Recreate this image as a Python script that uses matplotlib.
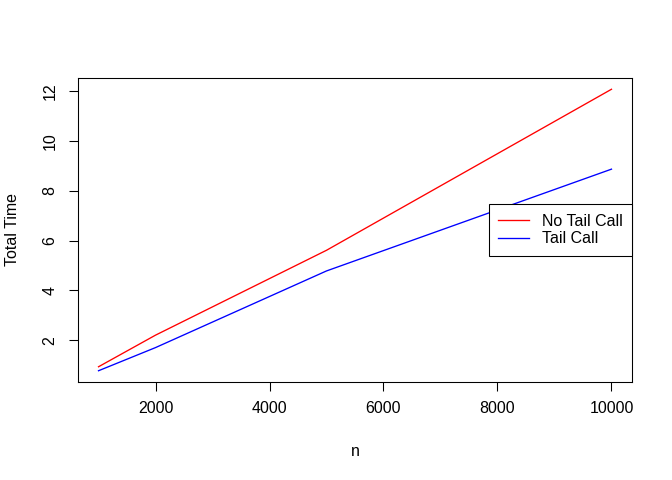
import matplotlib
matplotlib.use("Agg")
from matplotlib import pyplot as plt
import numpy as np

plt.rcParams['font.family'] = ['Liberation Sans', 'DejaVu Sans']

n = [1000, 2000, 5000, 10000]
no_tail = [0.93, 2.2, 5.61, 12.08]
tail = [0.77, 1.7, 4.78, 8.87]

fig = plt.figure(figsize=(7, 5), dpi=96)
ax = fig.add_axes([78/672, 1-382/480, (632-78)/672, (382-78)/480])

ax.plot(n, no_tail, color='red', lw=1, label='No Tail Call')
ax.plot(n, tail, color='blue', lw=1, label='Tail Call')

lo, hi = min(tail), max(no_tail)
pad = (hi - lo) * 0.04
ax.set_ylim(lo - pad, hi + pad)
ax.set_xlim(1000 - 360, 10000 + 360)
ax.set_xticks([2000, 4000, 6000, 8000, 10000])
ax.set_yticks([2, 4, 6, 8, 10, 12])
ax.tick_params(labelsize=12, length=7, width=0.8, colors='black')
ax.tick_params(axis='x', pad=7.5)
ax.tick_params(axis='y', pad=8.5)
for lab in ax.get_yticklabels():
    lab.set_rotation(90)
    lab.set_va('center')
for s in ax.spines.values():
    s.set_linewidth(0.8)

ax.set_xlabel('n', fontsize=12)
ax.xaxis.set_label_coords(0.5, (382-451)/304)
ax.xaxis.label.set_va('center')
ax.set_ylabel('Total Time', fontsize=12)
ax.yaxis.set_label_coords((13-78)/554, 0.5)
ax.yaxis.label.set_va('center')

leg = ax.legend(loc='center right', borderaxespad=0, fancybox=False,
                edgecolor='black', framealpha=1, fontsize=12,
                handlelength=1.9, handletextpad=0.8, borderpad=0.6,
                labelspacing=0.15)
leg.get_frame().set_linewidth(0.8)

fig.savefig('out.png', dpi=96)
